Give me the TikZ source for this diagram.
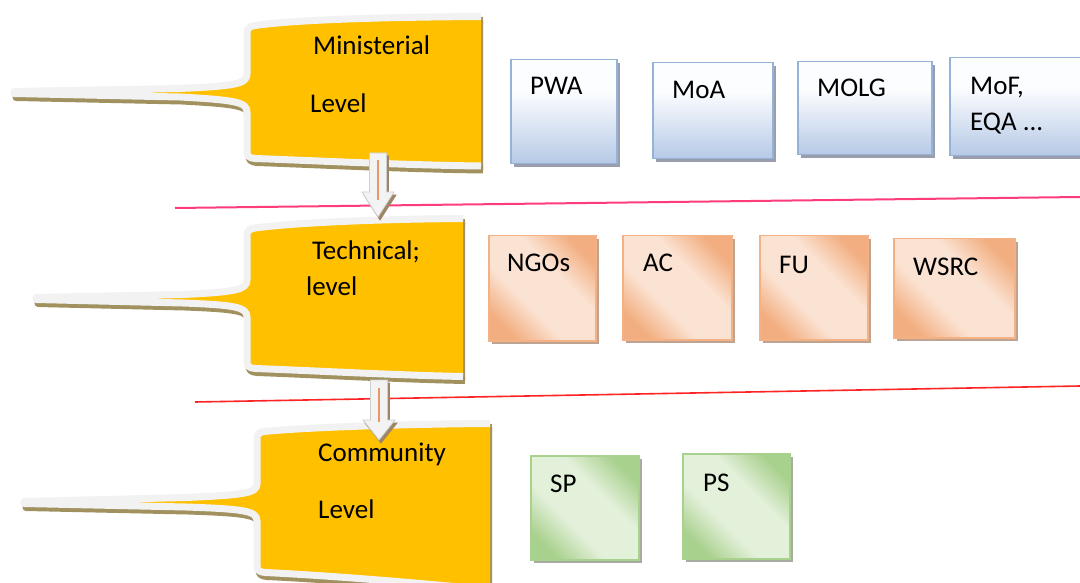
\documentclass[tikz,border=0pt]{standalone}
\usepackage{fontspec}
\setmainfont{Carlito}
\usetikzlibrary{calc,shadows}
\definecolor{gold}{HTML}{FFC000}
\definecolor{rimc}{HTML}{F2F2F2}
\definecolor{tanc}{HTML}{A0915F}
\definecolor{blueedge}{HTML}{95B3D7}
\definecolor{bluetop}{HTML}{FCFDFF}
\definecolor{bluebot}{HTML}{B6C9E6}
\definecolor{blueshadow}{HTML}{8F93A3}
\definecolor{peachedge}{HTML}{F4B183}
\definecolor{peachdark}{HTML}{F2AE80}
\definecolor{peachlight}{HTML}{FBE3D3}
\definecolor{peachshadow}{HTML}{B89A88}
\definecolor{greenedge}{HTML}{A9D18E}
\definecolor{greendark}{HTML}{A9D18E}
\definecolor{greenlight}{HTML}{E3F0DA}
\definecolor{greenshadow}{HTML}{9DA596}
\definecolor{pinkline}{HTML}{FF3C7A}
\definecolor{redline}{HTML}{FF2424}
\definecolor{arrowfill}{HTML}{F3F3F3}
\definecolor{arrowedge}{HTML}{CFCFCF}
\definecolor{arrowmid}{HTML}{E8976A}
\definecolor{arrowshadow}{HTML}{9E8565}

\pgfdeclareverticalshading{peachsh}{100bp}{color(0bp)=(peachdark); color(24bp)=(peachdark); color(40bp)=(peachlight); color(60bp)=(peachlight); color(76bp)=(peachdark); color(100bp)=(peachdark)}
\pgfdeclareverticalshading{greensh}{100bp}{color(0bp)=(greendark); color(24bp)=(greendark); color(40bp)=(greenlight); color(60bp)=(greenlight); color(76bp)=(greendark); color(100bp)=(greendark)}
\pgfdeclareverticalshading{bluesh}{100bp}{color(0bp)=(bluebot); color(25bp)=(bluebot); color(60bp)=(bluetop); color(100bp)=(bluetop)}

% callout outlines (open paths: top-right, round the left side, to bottom-right)
\def\pathA{(481,16.5) .. controls (400,17) and (300,19) .. (255,25.5) .. controls (249.5,26.5) and (247,28) .. (247,33) -- (247,74) .. controls (247,84) and (235,86) .. (180,88.5) -- (14,91.5) -- (14,93.5) -- (180,97) .. controls (235,100) and (247,102) .. (247,112) -- (247,152) .. controls (247,156) and (249,158) .. (255,158.5) .. controls (300,160) and (400,165) .. (481,166)}
\def\pathB{(463,218.5) .. controls (390,219) and (300,222) .. (255,228) .. controls (249.5,229) and (247,231) .. (247,235) -- (247,280) .. controls (247,290) and (235,292) .. (183,294.5) -- (36,297.5) -- (36,299.5) -- (183,303) .. controls (235,305) and (247,307) .. (247,317) -- (247,362) .. controls (247,366) and (249,368) .. (255,368.5) .. controls (300,370) and (390,375) .. (463,376.5)}
\def\pathC{(490,423.5) .. controls (410,424) and (310,427) .. (264,431.5) .. controls (259,432.5) and (257,434) .. (257,439) -- (257,484) .. controls (257,493) and (245,495) .. (186,497.5) -- (24,501.5) -- (24,503.5) -- (186,507) .. controls (245,509) and (257,511) .. (257,521) -- (257,566) .. controls (257,570) and (259,572) .. (265,572.5) .. controls (320,575) and (410,582) .. (490,590)}

\newcommand\drawcallout[1]{%
  \begin{scope}[transform canvas={shift={(2,4)}}]
    \fill[tanc] #1 -- cycle;
    \draw[tanc, line width=7pt, line join=round] #1;
  \end{scope}
  \fill[gold] #1 -- cycle;
  \draw[rimc, line width=7pt, line join=round] #1;
}

% block arrow from #1 (top of shaft) to #2 (tip), head length #3
\newcommand\fatarrow[4]{%
  \filldraw[#4] ($(#1)+(-8.5,0)$) -- ($(#2)+(-8.5,-#3)$) -- ($(#2)+(-16,-#3)$) -- (#2)
    -- ($(#2)+(16,-#3)$) -- ($(#2)+(8.5,-#3)$) -- ($(#1)+(8.5,0)$) -- cycle;
}

\begin{document}
\begin{tikzpicture}[x=1pt,y=-1pt,
  lbl/.style={font=\fontsize{27}{36}\selectfont, inner sep=0pt, anchor=base west, text=black, align=left},
  rbox/.style={line width=1.5pt, anchor=north west, inner sep=0pt},
  bluebox/.style={rbox, draw=blueedge, shading=bluesh,
    drop shadow={shadow xshift=3pt, shadow yshift=-3pt, fill=blueshadow, opacity=0.9}},
  peachbox/.style={rbox, draw=peachedge, shading=peachsh, shading angle=-45,
    drop shadow={shadow xshift=3pt, shadow yshift=-3pt, fill=peachshadow, opacity=0.9}},
  greenbox/.style={rbox, draw=greenedge, shading=greensh, shading angle=-45,
    drop shadow={shadow xshift=3pt, shadow yshift=-3pt, fill=greenshadow, opacity=0.9}},
  abody/.style={fill=arrowfill, draw=arrowedge, line width=0.8pt, line join=miter},
  ashadow/.style={fill=arrowshadow, draw=arrowshadow, line width=0.8pt},
  amid/.style={draw=arrowmid, line width=1.3pt},
  sepline/.style={line width=2pt}
]
\useasboundingbox (0,0) rectangle (1080,583);
\fill[white] (0,0) rectangle (1080,583);
\clip (0,0) rectangle (1080,583);

% separator lines
\coordinate (l1a) at (175,208);
\coordinate (l1b) at (1080,197);
\coordinate (l2a) at (195,402);
\coordinate (l2b) at (1080,386);
\draw[sepline, pinkline] (l1a) -- (l1b);
\draw[sepline, redline, line width=1.6pt] (l2a) -- (l2b);

% level callouts
\drawcallout{\pathA}
\drawcallout{\pathB}
\drawcallout{\pathC}

\node[lbl] (min1) at (313,55) {Ministerial};
\node[lbl] (min2) at (310,113) {Level};
\node[lbl] (tec1) at (312,259) {Technical;};
\node[lbl] (tec2) at (306,295) {level};
\node[lbl] (com1) at (318,461) {Community};
\node[lbl] (com2) at (318,518) {Level};

% ministerial row
\node[bluebox, minimum width=106pt, minimum height=104pt] (pwa) at (510,59) {};
\node[lbl] (pwat) at ($(pwa.north west)+(20,36)$) {PWA};
\node[bluebox, minimum width=120pt, minimum height=96pt] (moa) at (652,62) {};
\node[lbl] (moat) at ($(moa.north west)+(20,37)$) {MoA};
\node[bluebox, minimum width=134pt, minimum height=93pt] (molg) at (797,61) {};
\node[lbl] (molgt) at ($(molg.north west)+(20,36)$) {MOLG};
\node[bluebox, minimum width=150pt, minimum height=98pt] (mof) at (949,57) {};
\node[lbl] (moft) at ($(mof.north west)+(21,74)$) {MoF,\\EQA ...};

% technical row
\node[peachbox, minimum width=107pt, minimum height=105pt] (ngo) at (488,235) {};
\node[lbl] (ngot) at ($(ngo.north west)+(19,37)$) {NGOs};
\node[peachbox, minimum width=109pt, minimum height=104pt] (ac) at (622,235) {};
\node[lbl] (act) at ($(ac.north west)+(21,37)$) {AC};
\node[peachbox, minimum width=108pt, minimum height=104pt] (fu) at (759,235) {};
\node[lbl] (fut) at ($(fu.north west)+(20,38)$) {FU};
\node[peachbox, minimum width=121pt, minimum height=99pt] (wsrc) at (893,238) {};
\node[lbl] (wsrct) at ($(wsrc.north west)+(20,38)$) {WSRC};

% community row
\node[greenbox, minimum width=108pt, minimum height=104pt] (sp) at (530,455) {};
\node[lbl] (spt) at ($(sp.north west)+(20,37)$) {SP};
\node[greenbox, minimum width=107pt, minimum height=105pt] (ps) at (682,453) {};
\node[lbl] (pst) at ($(ps.north west)+(21,38)$) {PS};

% down arrows between levels
\coordinate (a1s) at (378,153);
\coordinate (a1e) at (378,217);
\coordinate (a2s) at (379,380);
\coordinate (a2e) at (379,440);
\begin{scope}[transform canvas={shift={(2,3)}}]
\fatarrow{a1s}{a1e}{25}{ashadow}
\fatarrow{a2s}{a2e}{20}{ashadow}
\end{scope}
\fatarrow{a1s}{a1e}{25}{abody}
\fatarrow{a2s}{a2e}{20}{abody}
\draw[amid] ($(a1s)+(0,7)$) -- ($(a1e)+(0,-17)$);
\draw[amid] ($(a2s)+(0,8)$) -- ($(a2e)+(0,-18)$);
\end{tikzpicture}
\end{document}
